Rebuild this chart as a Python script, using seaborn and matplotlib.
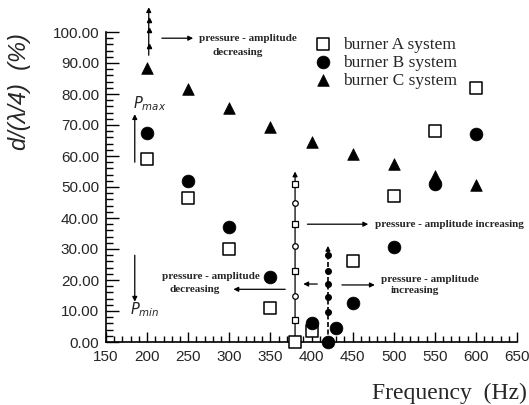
import numpy as np
import pandas as pd
import matplotlib
matplotlib.use("Agg")
import matplotlib.pyplot as plt
import seaborn as sns
from matplotlib.ticker import MultipleLocator, FormatStrFormatter

# ---- data ----
freq_a = [200, 250, 300, 350, 380, 400, 450, 500, 550, 600]
vals_a = [59, 46.5, 30, 11, 0, 3.5, 26, 47, 68, 82]
freq_b = [200, 250, 300, 350, 400, 420, 430, 450, 500, 550, 600]
vals_b = [67.5, 52, 37, 21, 6, 0, 4.5, 12.5, 30.5, 51, 67]
freq_c = [200, 250, 300, 350, 400, 450, 500, 550, 600]
vals_c = [88.5, 81.5, 75.5, 69.5, 64.5, 60.5, 57.5, 53.5, 50.5]
series_labels = ["burner A system", "burner B system", "burner C system"]

# annotation guide markers
guide1_x = 380
guide1_y = [51, 45, 38, 31, 23, 15, 7]
guide2_x = 420
guide2_y = [28, 23, 18.7, 14.5, 9.7]

sns.set_style("ticks")
plt.rcParams["font.family"] = ["Liberation Sans", "DejaVu Sans"]

fig = plt.figure(figsize=(5.29, 4.05), dpi=100)
ax = fig.add_axes([106 / 529, 1 - 342 / 405, 411 / 529, 310 / 405])

df_a = pd.DataFrame({"f": freq_a, "v": vals_a})
df_b = pd.DataFrame({"f": freq_b, "v": vals_b})
df_c = pd.DataFrame({"f": freq_c, "v": vals_c})

sns.scatterplot(data=df_a, x="f", y="v", marker="s", s=80, facecolor="white",
                edgecolor="black", linewidth=1.1, ax=ax, label=series_labels[0],
                clip_on=False, zorder=4)
sns.scatterplot(data=df_b, x="f", y="v", marker="o", s=85, color="black",
                edgecolor="black", linewidth=0.5, ax=ax, label=series_labels[1],
                clip_on=False, zorder=4)
sns.scatterplot(data=df_c, x="f", y="v", marker="^", s=70, color="black",
                edgecolor="black", linewidth=0.5, ax=ax, label=series_labels[2],
                clip_on=False, zorder=4)
ax.collections[0].set_facecolor("white")
ax.collections[0].set_edgecolor("black")

ax.set_xlim(150, 650)
ax.set_ylim(0, 100)
ax.xaxis.set_major_locator(MultipleLocator(50))
ax.xaxis.set_minor_locator(MultipleLocator(10))
ax.yaxis.set_major_locator(MultipleLocator(10))
ax.yaxis.set_minor_locator(MultipleLocator(2))
ax.yaxis.set_major_formatter(FormatStrFormatter("%.2f"))
ax.tick_params(axis="both", which="both", direction="in", color="black", width=1.0)
ax.tick_params(axis="y", which="major", length=9, pad=5, labelsize=11)
ax.tick_params(axis="y", which="minor", length=5)
ax.tick_params(axis="x", which="major", length=7, pad=6, labelsize=11)
ax.tick_params(axis="x", which="minor", length=4)
sns.despine(ax=ax)
for sp in ["left", "bottom"]:
    ax.spines[sp].set_linewidth(1.2)
    ax.spines[sp].set_color("black")
ax.set_xlabel("")
ax.set_ylabel("")

fig.text(449 / 529, 1 - 393 / 405, "Frequency  (Hz)", family="Liberation Serif",
         fontsize=17, ha="center", va="center")
fig.text(20 / 529, 1 - 92 / 405, "d/(λ/4)  (%)", fontstyle="italic",
         fontsize=17, rotation=90, ha="center", va="center")

leg = ax.legend(loc="upper left", bbox_to_anchor=(304 / 529, 1 - 28 / 405),
                bbox_transform=fig.transFigure, frameon=False,
                prop={"family": "Liberation Serif", "size": 12.5},
                handletextpad=0.55, labelspacing=0.1, borderpad=0, handlelength=1.2)

# ---- annotations ----
ann_font = dict(family="Liberation Serif", fontweight="bold", fontsize=8)
arr = dict(arrowstyle="-|>", color="black", lw=0.9, mutation_scale=7,
           shrinkA=0, shrinkB=0)

# top double arrow with marks
ax.annotate("", xy=(202, 108), xytext=(202, 92.5), arrowprops=arr,
            annotation_clip=False)
ax.plot([202, 202, 202], [95.5, 100.5, 104], marker="^", ms=3, color="black",
        ls="none", clip_on=False)
ax.annotate("", xy=(256, 98), xytext=(218, 98), arrowprops=arr, annotation_clip=False)
ax.text(263, 98, "pressure - amplitude", ha="left", va="center", **ann_font)
ax.text(310, 93.5, "decreasing", ha="center", va="center", **ann_font)

# P max / P min
ax.annotate("", xy=(185, 73.5), xytext=(185, 58), arrowprops=arr)
ax.text(183, 77, r"$P_{max}$", ha="left", va="center", fontsize=10.5,
        family="Liberation Serif")
ax.annotate("", xy=(185, 13), xytext=(185, 28), arrowprops=arr)
ax.text(179, 10.5, r"$P_{min}$", ha="left", va="center", fontsize=10.5,
        family="Liberation Serif")

# left lower text + arrow
ax.text(277, 21, "pressure - amplitude", ha="center", va="center", **ann_font)
ax.text(258, 17, "decreasing", ha="center", va="center", **ann_font)
ax.annotate("", xy=(305, 17), xytext=(368, 17), arrowprops=arr)

# guide line 1 (x=380)
ax.annotate("", xy=(guide1_x, 55), xytext=(guide1_x, 0), arrowprops=arr)
for i, gy in enumerate(guide1_y):
    ax.plot([guide1_x], [gy], marker="s" if i % 2 == 0 else "o", ms=4,
            mfc="white", mec="black", mew=0.9, zorder=3)

# guide line 2 (x=420)
ax.plot([guide2_x, guide2_x], [0, 29], ls=(0, (3, 1.5)), color="black", lw=1.2)
ax.annotate("", xy=(guide2_x, 31), xytext=(guide2_x, 28), arrowprops=arr)
ax.plot([guide2_x] * len(guide2_y), guide2_y, marker="o", ms=4, color="black",
        ls="none", zorder=3)

# small arrows around guide 2
ax.annotate("", xy=(390, 18.7), xytext=(407, 18.7), arrowprops=arr)
ax.annotate("", xy=(477, 18.4), xytext=(437, 18.4), arrowprops=arr)
ax.text(544, 20, "pressure - amplitude", ha="center", va="center", **ann_font)
ax.text(526, 16.5, "increasing", ha="center", va="center", **ann_font)

# upper right arrow
ax.annotate("", xy=(469, 38), xytext=(395, 38), arrowprops=arr)
ax.text(477, 38, "pressure - amplitude increasing", ha="left", va="center",
        clip_on=False, **ann_font)

fig.savefig("out.png", dpi=100)
